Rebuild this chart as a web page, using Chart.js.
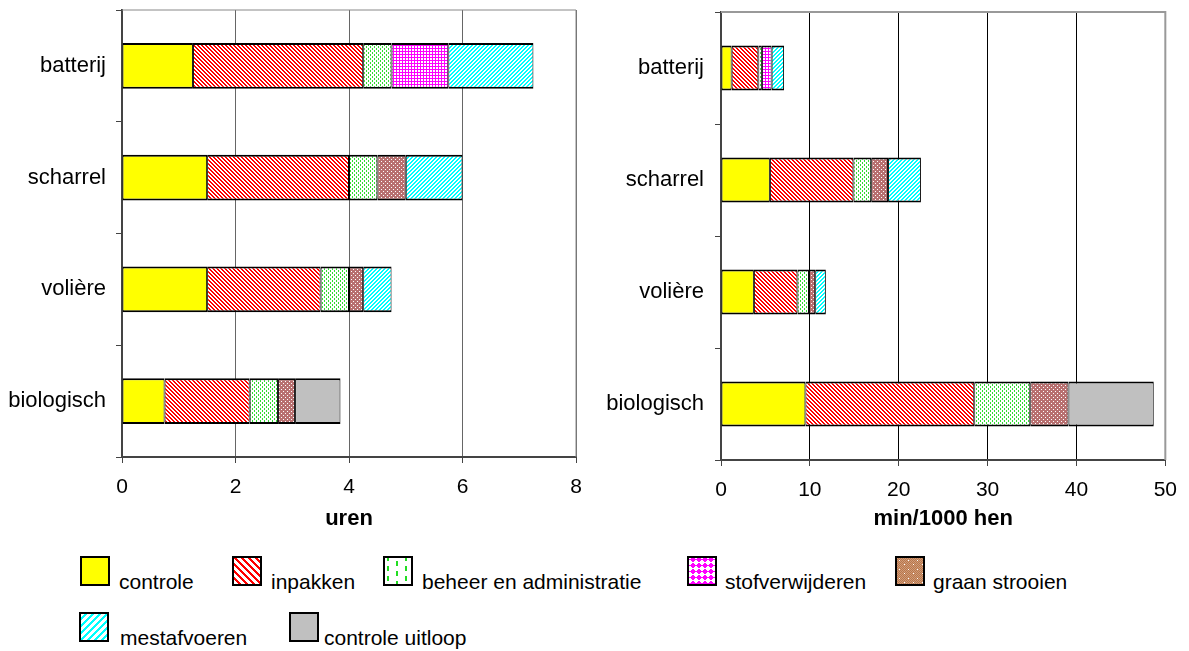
<!DOCTYPE html>
<html>
<head>
<meta charset="utf-8">
<script src="https://cdn.jsdelivr.net/npm/chart.js@4.4.1/dist/chart.umd.min.js"></script>
<style>
  body { margin: 0; background: #fff; font-family: "Liberation Sans", Arial, sans-serif; }
  #wrap { position: relative; width: 1189px; height: 651px; overflow: hidden; }
  #left { position: absolute; left: 0; top: 0; }
  #right { position: absolute; left: 600px; top: 0; }
  .swatch { position: absolute; }
  .label { position: absolute; font-size: 21px; line-height: 21px; color: #000; white-space: nowrap; }
</style>
</head>
<body>
<div id="wrap">
  <canvas id="left" width="600" height="540"></canvas>
  <canvas id="right" width="589" height="540"></canvas>
</div>
<script>
const categories = ["batterij", "scharrel", "volière", "biologisch"];
const taskNames = ["controle", "inpakken", "beheer en administratie", "stofverwijderen",
  "graan strooien", "mestafvoeren", "controle uitloop"];

// uren per taak, per bedrijfstype (batterij, scharrel, volière, biologisch)
const urenControle = [1.25, 1.5, 1.5, 0.75];
const urenInpakken = [3.0, 2.5, 2.0, 1.5];
const urenBeheer = [0.5, 0.5, 0.5, 0.5];
const urenStof = [1.0, null, null, null];
const urenGraan = [null, 0.5, 0.25, 0.3];
const urenMest = [1.5, 1.0, 0.5, null];
const urenUitloop = [null, null, null, 0.8];

// min/1000 hen per taak
const minControle = [1.2, 5.5, 3.7, 9.5];
const minInpakken = [3.0, 9.4, 4.9, 19.0];
const minBeheer = [0.4, 2.0, 1.3, 6.3];
const minStof = [1.1, null, null, null];
const minGraan = [null, 1.9, 0.7, 4.3];
const minMest = [1.4, 3.7, 1.2, null];
const minUitloop = [null, null, null, 9.6];

const urenTicks = [0, 2, 4, 6, 8];
const minTicks = [0, 10, 20, 30, 40, 50];

// small pixel patterns, the way the old spreadsheet fills look
function pixelPattern(size, fn) {
  const c = document.createElement("canvas");
  c.width = size; c.height = size;
  const g = c.getContext("2d");
  for (let y = 0; y < size; y++) {
    for (let x = 0; x < size; x++) {
      g.fillStyle = fn(x, y);
      g.fillRect(x, y, 1, 1);
    }
  }
  return c;
}

const tiles = [
  pixelPattern(4, () => "#ffff00"),
  pixelPattern(4, (x, y) => ((x - y + 8) % 4 < 2 ? "#ff0000" : "#ffffff")),
  pixelPattern(4, (x, y) => ((x === 0 && y < 2) || (x === 2 && y >= 2) ? "#33dd33" : "#ffffff")),
  pixelPattern(3, (x, y) => (x === 0 || y === 0 ? "#ff00ff" : "#ffffff")),
  pixelPattern(4, (x, y) => ((x === 1 && y === 1) || (x === 3 && y === 3) ? "#ffffff" : "#b87070")),
  pixelPattern(4, (x, y) => ((x + y) % 4 < 2 ? "#00ffff" : "#ffffff")),
  pixelPattern(4, () => "#c0c0c0"),
];

function fills(ctx) {
  return tiles.map(t => ctx.createPattern(t, "repeat"));
}

// bigger versions for the legend boxes
const legendFns = [
  () => "#ffff00",
  (x, y) => ((x - y + 70) % 7 < 3 ? "#ff0000" : "#ffffff"),
  (x, y) => {
    const col = x % 9;
    const shift = Math.floor(x / 9) % 2 ? 5 : 0;
    return (col >= 4 && col < 6 && (y + shift) % 10 < 5) ? "#22dd22" : "#ffffff";
  },
  (x, y) => {
    const u = (x + y) % 12 < 6, v = (x - y + 120) % 12 < 6;
    return u !== v ? "#ff00ff" : "#ffffff";
  },
  (x, y) => {
    if ((x % 9 === 4 && y % 9 === 4) || (x % 9 === 0 && y % 9 === 8)) return "#ffffff";
    return (x + y) % 2 ? "#b8784c" : "#d09a78";
  },
  (x, y) => ((x + y) % 7 < 3 ? "#00ffff" : "#ffffff"),
  () => "#c0c0c0",
];

const frame = {
  id: "frame",
  beforeDatasetsDraw(chart, args, opts) {
    const {ctx, chartArea: a} = chart;
    ctx.save();
    ctx.strokeStyle = opts.color;
    ctx.lineWidth = opts.width;
    ctx.beginPath();
    ctx.moveTo(a.left, a.top);
    ctx.lineTo(a.right, a.top);
    ctx.lineTo(a.right, a.bottom);
    ctx.stroke();
    ctx.restore();
  },
};

function makeChart(id, series, ticks, title, layout) {
  const canvas = document.getElementById(id);
  const ctx = canvas.getContext("2d");
  const patterns = fills(ctx);
  const family = "'Liberation Sans', Arial, sans-serif";

  const datasets = series.map((values, i) => ({
    label: taskNames[i],
    data: values,
    backgroundColor: patterns[i],
    borderColor: "#000",
    borderWidth: {top: 2, bottom: 2, left: 1, right: 1},
    borderSkipped: false,
    categoryPercentage: 1,
    barPercentage: layout.barPct,
  }));

  return new Chart(canvas, {
    type: "bar",
    data: {labels: categories, datasets},
    options: {
      indexAxis: "y",
      responsive: false,
      animation: false,
      layout: {padding: {top: layout.top, right: layout.right, bottom: 0, left: 0}},
      plugins: {
        legend: {display: false},
        tooltip: {enabled: false},
        frame: {color: layout.frameColor, width: layout.frameWidth},
      },
      scales: {
        x: {
          stacked: true,
          min: ticks[0],
          max: ticks[ticks.length - 1],
          afterBuildTicks: s => { s.ticks = ticks.map(v => ({value: v})); },
          ticks: {color: "#000", font: {family, size: 21}, padding: 12, maxRotation: 0},
          grid: {color: layout.gridColor, tickLength: 6, tickColor: "#444"},
          border: {color: "#444", width: 2},
          title: {
            display: true,
            text: title,
            color: "#000",
            font: {family, size: 22, weight: "bold"},
            padding: {top: 0, bottom: 8},
          },
          afterFit: s => { s.height = layout.xHeight; },
        },
        y: {
          stacked: true,
          ticks: {color: "#000", font: {family, size: 22}, padding: layout.labelPad},
          grid: {offset: true, drawOnChartArea: false, tickLength: 6, color: "#444"},
          border: {color: "#444", width: 2},
          afterFit: s => {
            s.width = layout.yWidth;
            s.paddingTop = 0;
            s.paddingBottom = 0;
          },
        },
      },
    },
    plugins: [frame],
  });
}

makeChart("left",
  [urenControle, urenInpakken, urenBeheer, urenStof, urenGraan, urenMest, urenUitloop],
  urenTicks, "uren",
  {top: 10, right: 24, xHeight: 83, yWidth: 122, labelPad: 10, barPct: 0.41,
   gridColor: "#666", frameColor: "#888", frameWidth: 1});

makeChart("right",
  [minControle, minInpakken, minBeheer, minStof, minGraan, minMest, minUitloop],
  minTicks, "min/1000 hen",
  {top: 12, right: 21, xHeight: 80, yWidth: 121, labelPad: 11, barPct: 0.40,
   gridColor: "#000", frameColor: "#999", frameWidth: 2});

// legend, drawn as html under the charts: box x, box y, text x, text y
const legendSpots = [
  [80, 556, 119, 571], [232, 556, 271, 571], [383, 556, 422, 571],
  [687, 556, 725, 571], [895, 556, 933, 571],
  [79, 612, 120, 627], [289, 612, 324, 627],
];
const wrap = document.getElementById("wrap");
taskNames.forEach((name, i) => {
  const [bx, by, tx, ty] = legendSpots[i];
  const sw = pixelPattern(30, legendFns[i]);
  const g = sw.getContext("2d");
  g.strokeStyle = "#000";
  g.lineWidth = 2;
  g.strokeRect(1, 1, 28, 28);
  sw.className = "swatch";
  sw.style.left = bx + "px";
  sw.style.top = by + "px";
  wrap.appendChild(sw);
  const t = document.createElement("div");
  t.className = "label";
  t.style.left = tx + "px";
  t.style.top = ty + "px";
  t.textContent = name;
  wrap.appendChild(t);
});
</script>
</body>
</html>
